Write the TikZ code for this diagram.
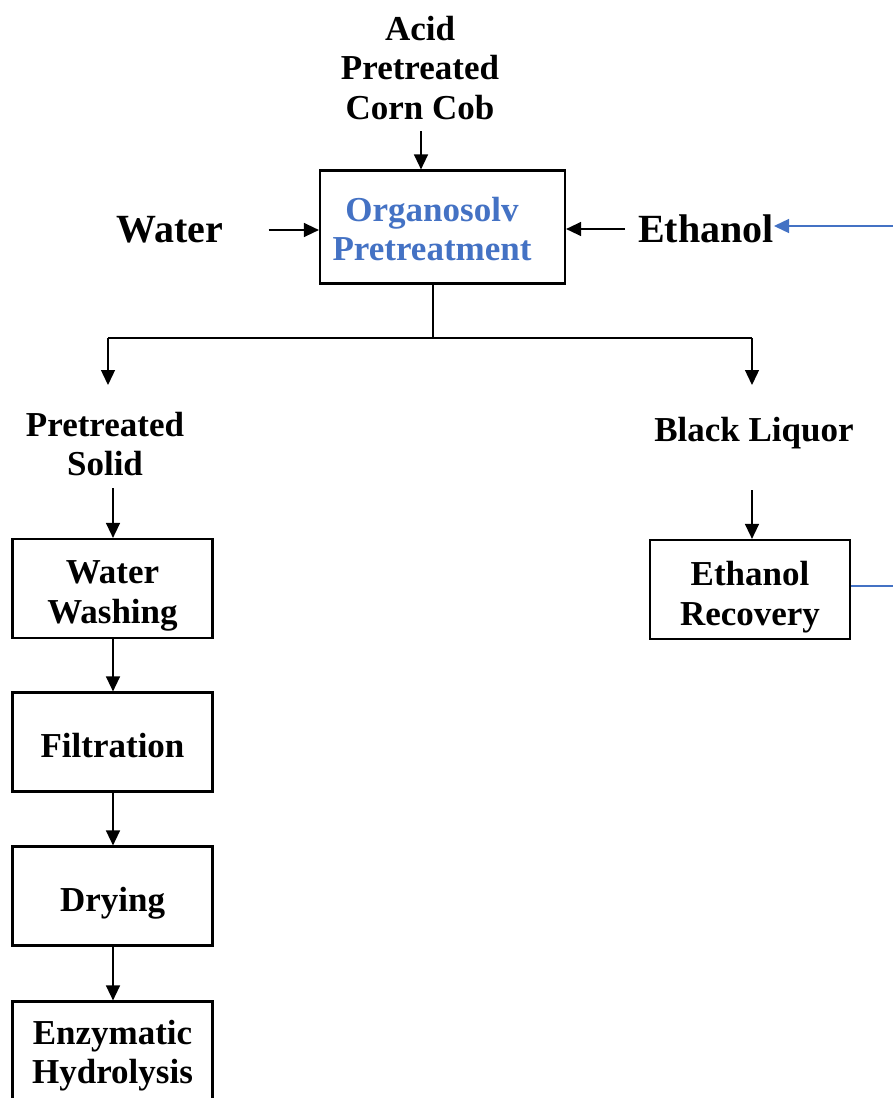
\documentclass[tikz,border=0pt]{standalone}
\usepackage{fontspec}
\setmainfont{Liberation Serif}
\usetikzlibrary{arrows.meta}
\definecolor{orgblue}{HTML}{4472C4}
\newcommand\topstrut[1]{\rule{0pt}{#1}}
\begin{document}
\begin{tikzpicture}[x=1pt,y=-1pt,
  lbl/.style={font=\bfseries\fontsize{35}{39.5}\selectfont, align=center, inner sep=0pt},
  big/.style={font=\bfseries\fontsize{40}{44}\selectfont, inner sep=0pt},
  box/.style={draw, line width=2.2pt, minimum width=200pt, minimum height=99pt, inner sep=0pt,
              font=\bfseries\fontsize{35}{39.5}\selectfont, align=center},
  arr/.style={line width=1.4pt, -{Triangle[length=15pt,width=14pt]}},
  barr/.style={draw=orgblue, line width=1.4pt, -{Triangle[length=15pt,width=14pt]}},
  ln/.style={line width=1.3pt}]
\useasboundingbox (0,0) rectangle (893,1098);
\clip (0,0) rectangle (893,1098);
\fill[white] (0,0) rectangle (893,1098);

% inputs
\node[lbl] (acid) at (420,68) {Acid\\Pretreated\\Corn Cob};
\node[big] (water) at (170,230) {Water};
\node[big] (ethanol) at (706,229) {Ethanol};

% main box
\node[box, minimum width=245pt, minimum height=113pt] (org) at (442.5,227) {};
\node[lbl, text=orgblue] (orgtxt) at (432,229) {Organosolv\\Pretreatment};

% outputs
\node[lbl] (ps) at (105,444) {Pretreated\\Solid};
\node[lbl] (bl) at (754,433) {Black Liquor};

% process boxes
\node[box] (ww) at (112.5,588.5) {\topstrut{38pt}Water\\Washing};
\node[box] (filt) at (112.5,742) {\topstrut{32pt}Filtration};
\node[box] (dry) at (112.5,896) {\topstrut{39pt}Drying};
\node[box] (enz) at (112.5,1051) {\topstrut{34pt}Enzymatic\\Hydrolysis};
\node[box] (er) at (750,589.5) {\topstrut{40pt}Ethanol\\Recovery};

% coordinates
\coordinate (split) at (433,338);
\coordinate (ls) at (108,338);
\coordinate (rs) at (752,338);
\coordinate (bin) at (893,226);
\coordinate (bout) at (893,586);

% connectors into main box
\draw[arr, shorten <=11pt] (acid.south -| 421,0) -- (421,0 |- org.north);
\draw[arr, shorten <=45pt] (water.east) -- (water.east -| org.west);
\draw[arr, shorten <=13pt] (ethanol.west) -- (ethanol.west -| org.east);
\draw[barr] (bin) -- (bin -| ethanol.east);

% split
\draw[ln] (split |- org.south) -- (split);
\draw[ln] (ls) -- (rs);
\draw[arr] (ls) -- ++(0,47);
\draw[arr] (rs) -- ++(0,47);

% left chain
\draw[arr, shorten <=12pt] (ps.south -| 113,0) -- (113,0 |- ww.north);
\draw[arr] (113,0 |- ww.south) -- (113,0 |- filt.north);
\draw[arr] (113,0 |- filt.south) -- (113,0 |- dry.north);
\draw[arr] (113,0 |- dry.south) -- (113,0 |- enz.north);

% right chain
\draw[arr] (752,490) -- (752,0 |- er.north);
\draw[draw=orgblue, line width=1.3pt] (er.east |- bout) -- (bout);
\end{tikzpicture}
\end{document}
